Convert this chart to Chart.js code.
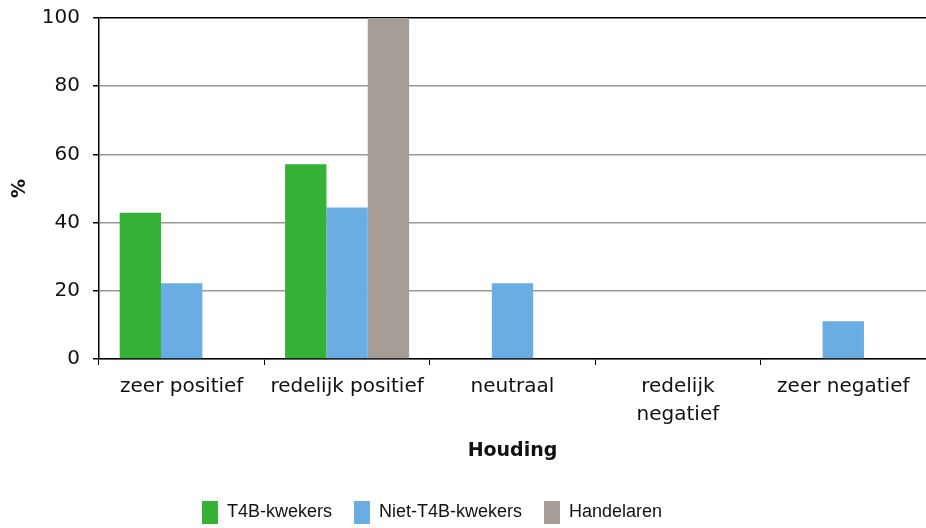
<!DOCTYPE html>
<html>
<head>
<meta charset="utf-8">
<script src="https://cdn.jsdelivr.net/npm/chart.js@4.4.1/dist/chart.umd.min.js"></script>
<style>
  html, body { margin: 0; padding: 0; background: #fff; }
  #wrap { width: 926px; height: 528px; }
</style>
</head>
<body>
<div id="wrap"><canvas id="houdingChart"></canvas></div>
<script>
const ctx = document.getElementById('houdingChart').getContext('2d');

// houding per groep, in procenten
var categories = ['zeer positief', 'redelijk positief', 'neutraal', ['redelijk', 'negatief'], 'zeer negatief']
var t4bKwekers = [42.9, 57.1, 0, 0, 0]
var nietT4bKwekers = [22.2, 44.4, 22.2, 0, 11.1]
var handelaren = [0, 100, 0, 0, 0]
var yTicks = [0, 20, 40, 60, 80, 100]

var tickFont = { family: 'DejaVu Sans', size: 20, lineHeight: 1.4 }
var titleFont = { family: 'DejaVu Sans', size: 19, weight: 'bold' }

// schuift de legenda wat naar links
const legendShift = {
    id: 'legendShift',
    afterLayout(chart) {
        chart.legend.left -= 31
        chart.legend.right -= 31
    }
}

var chart = new Chart(ctx, {
    type: 'bar',
    data: {
        labels: categories,
        datasets: [
            { label: 'T4B-kwekers', data: t4bKwekers, backgroundColor: '#35b236' },
            { label: 'Niet-T4B-kwekers', data: nietT4bKwekers, backgroundColor: '#6aade3' },
            { label: 'Handelaren', data: handelaren, backgroundColor: '#a69d96' }
        ]
    },
    options: {
        responsive: true,
        maintainAspectRatio: false,
        animation: false,
        layout: { padding: { top: 18, left: 0, right: 0, bottom: -6 } },
        datasets: { bar: { categoryPercentage: 0.75, barPercentage: 1.0 } },
        plugins: {
            tooltip: { enabled: false },
            legend: {
                position: 'bottom',
                labels: {
                    font: { family: '"Liberation Sans Narrow", "Liberation Sans"', size: 18 },
                    color: '#111',
                    boxWidth: 16,
                    boxHeight: 23,
                    padding: 22
                }
            }
        },
        scales: {
            x: {
                grid: { offset: true, drawOnChartArea: false, drawTicks: true, tickLength: 6, tickColor: '#000' },
                border: { color: '#000', width: 1.5 },
                ticks: { font: tickFont, color: '#111', padding: 8, maxRotation: 0, autoSkip: false },
                title: { display: true, text: 'Houding', font: titleFont, color: '#111', padding: { top: 10, bottom: 17 } },
                afterFit(scale) { scale.height = 120 }
            },
            y: {
                min: 0,
                max: 100,
                afterBuildTicks(scale) { scale.ticks = yTicks.map(v => ({ value: v })) },
                grid: {
                    color: c => c.tick && c.tick.value === 100 ? '#000' : '#999',
                    lineWidth: 1.5,
                    tickLength: 6,
                    tickColor: '#000'
                },
                border: { color: '#000', width: 1.5 },
                ticks: { font: tickFont, color: '#111', padding: 13 },
                title: { display: true, text: '%', font: titleFont, color: '#111', padding: { top: 9, bottom: 0 } },
                afterFit(scale) {
                    scale.width = 99
                    scale.paddingTop = 0
                    scale.paddingBottom = 0
                }
            }
        }
    },
    plugins: [legendShift]
})
</script>
</body>
</html>
